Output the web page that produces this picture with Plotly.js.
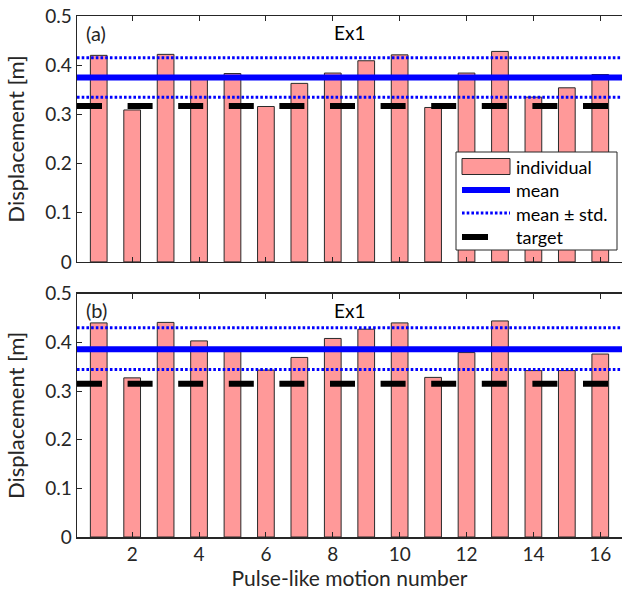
<!DOCTYPE html>
<html>
<head>
<meta charset="utf-8">
<script src="https://cdn.plot.ly/plotly-3.0.1.min.js"></script>
<style>html,body{margin:0;padding:0;background:#fff;}#chart{width:622px;height:594px;}</style>
</head>
<body>
<div id="chart"></div>
<script>
// ---- data ----
var motionNumbers = [1,2,3,4,5,6,7,8,9,10,11,12,13,14,15,16];
var dispA = [0.420,0.309,0.422,0.378,0.383,0.316,0.363,0.384,0.409,0.421,0.314,0.384,0.428,0.335,0.354,0.381];
var dispB = [0.440,0.327,0.441,0.403,0.381,0.343,0.369,0.408,0.427,0.440,0.328,0.379,0.444,0.342,0.342,0.376];
var meanVals = [0.375, 0.386];           // (a), (b)
var stdUpper = [0.415, 0.430];
var stdLower = [0.335, 0.344];
var targetVals = [0.317, 0.315];
var panelLabels = ['(a)', '(b)'];
var panelTitles = ['Ex1', 'Ex1'];
var legendNames = ['individual', 'mean', 'mean \u00b1 std.', 'target'];
var xTickVals = [2,4,6,8,10,12,14,16];
var yTickVals = [0,0.1,0.2,0.3,0.4,0.5];
var yTickText = ['0','0.1','0.2','0.3','0.4','0.5'];
var xLimits = [0.35, 16.65];

var FONT = 'Lato, "Open Sans", sans-serif';
var TXT = '#262626';
var BAR = '#ff9999', BAR_EDGE = '#2a2a2a', BLUE = '#0000ff';
var STD_DASH = '2.6px,2.1px', TGT_DASH = '25px,25.6px';

var traces = [];
var panels = [dispA, dispB];
var axes = [['x','y'],['x2','y2']];
for (var p = 0; p < 2; p++) {
  traces.push({
    type: 'bar', x: motionNumbers, y: panels[p], xaxis: axes[p][0], yaxis: axes[p][1],
    width: 0.5, name: legendNames[0], showlegend: false,
    marker: {color: BAR, line: {color: BAR_EDGE, width: 1}}
  });
  traces.push({
    type: 'scatter', mode: 'lines', x: xLimits, y: [meanVals[p], meanVals[p]],
    xaxis: axes[p][0], yaxis: axes[p][1], name: legendNames[1], showlegend: false,
    line: {color: BLUE, width: 6}
  });
  traces.push({
    type: 'scatter', mode: 'lines', x: xLimits, y: [stdUpper[p], stdUpper[p]],
    xaxis: axes[p][0], yaxis: axes[p][1], name: legendNames[2], showlegend: false,
    line: {color: BLUE, width: 3, dash: STD_DASH}
  });
  traces.push({
    type: 'scatter', mode: 'lines', x: xLimits, y: [stdLower[p], stdLower[p]],
    xaxis: axes[p][0], yaxis: axes[p][1], name: legendNames[2], showlegend: false,
    line: {color: BLUE, width: 3, dash: STD_DASH}
  });
  traces.push({
    type: 'scatter', mode: 'lines', x: xLimits, y: [targetVals[p], targetVals[p]],
    xaxis: axes[p][0], yaxis: axes[p][1], name: legendNames[3], showlegend: false,
    line: {color: '#000000', width: 6, dash: TGT_DASH}
  });
}

function xax(showLabels, anchor) {
  return {
    anchor: anchor, range: xLimits, tickvals: xTickVals, ticktext: xTickVals.map(String),
    showticklabels: showLabels, ticks: 'inside', ticklen: 5, tickwidth: 1, tickcolor: TXT,
    showline: true, linecolor: TXT, linewidth: 1.5, mirror: 'ticks', showgrid: false, zeroline: false,
    tickfont: {family: FONT, size: 19, color: TXT}
  };
}
function yax(domain, anchor) {
  return {
    anchor: anchor, domain: domain, range: [0, 0.5], tickvals: yTickVals, ticktext: yTickText,
    ticks: 'inside', ticklen: 5, tickwidth: 1, tickcolor: TXT,
    showline: true, linecolor: TXT, linewidth: 1.5, showgrid: false, zeroline: false,
    tickfont: {family: FONT, size: 19, color: TXT},
    title: {text: 'Displacement [m]', font: {family: FONT, size: 22, color: TXT}, standoff: 14}
  };
}

var xa1 = xax(false, 'y');
var xa2 = xax(true, 'y2');
xa2.title = {text: 'Pulse-like motion number', font: {family: FONT, size: 21, color: TXT}, standoff: 5};

var annotations = [];
var yrefs = ['y domain', 'y2 domain'];
var xrefs = ['x', 'x2'];
for (var q = 0; q < 2; q++) {
  annotations.push({text: panelLabels[q], xref: xrefs[q] + ' domain', yref: yrefs[q], x: 0.013, y: 0.932,
    xanchor: 'left', yanchor: 'middle', showarrow: false, font: {family: FONT, size: 20, color: TXT}});
  annotations.push({text: panelTitles[q], xref: xrefs[q] + ' domain', yref: yrefs[q], x: 0.5, y: 0.932,
    xanchor: 'center', yanchor: 'middle', showarrow: false, font: {family: FONT, size: 19, color: '#000'}});
}

// ---- hand-built legend (pixel positions converted to paper coords) ----
var ML = 77, MT = 16, MB = 57, W = 622, H = 594;
var PW = W - ML, PH = H - MT - MB;
function px(v) { return (v - ML) / PW; }
function py(v) { return (H - MB - v) / PH; }
var shapes = [];
shapes.push({type: 'rect', xref: 'paper', yref: 'paper', x0: px(456), x1: px(617), y0: py(250), y1: py(152),
  fillcolor: '#ffffff', line: {color: TXT, width: 1}, layer: 'above'});
shapes.push({type: 'rect', xref: 'paper', yref: 'paper', x0: px(462), x1: px(510), y0: py(174.5), y1: py(158.5),
  fillcolor: BAR, line: {color: BAR_EDGE, width: 1}, layer: 'above'});
shapes.push({type: 'line', xref: 'paper', yref: 'paper', x0: px(462), x1: px(510), y0: py(190), y1: py(190),
  line: {color: BLUE, width: 6}, layer: 'above'});
shapes.push({type: 'line', xref: 'paper', yref: 'paper', x0: px(462), x1: px(510), y0: py(213), y1: py(213),
  line: {color: BLUE, width: 3, dash: STD_DASH}, layer: 'above'});
shapes.push({type: 'line', xref: 'paper', yref: 'paper', x0: px(462), x1: px(488), y0: py(237), y1: py(237),
  line: {color: '#000000', width: 6}, layer: 'above'});
var legendRowsY = [166.5, 190.5, 213.5, 237];
for (var k = 0; k < legendNames.length; k++) {
  annotations.push({text: legendNames[k], xref: 'paper', yref: 'paper', x: px(514), y: py(legendRowsY[k]),
    xanchor: 'left', yanchor: 'middle', showarrow: false, font: {family: FONT, size: 18, color: '#000'}});
}

var layout = {
  width: W, height: H,
  margin: {l: ML, r: 0, t: MT, b: MB},
  paper_bgcolor: '#ffffff', plot_bgcolor: '#ffffff',
  showlegend: false,
  xaxis: xa1, xaxis2: xa2,
  yaxis: yax([0.528, 1], 'x'), yaxis2: yax([0, 0.467], 'x2'),
  annotations: annotations,
  shapes: shapes,
  bargap: 0
};
Plotly.newPlot('chart', traces, layout, {staticPlot: true, displayModeBar: false});
</script>
</body>
</html>
